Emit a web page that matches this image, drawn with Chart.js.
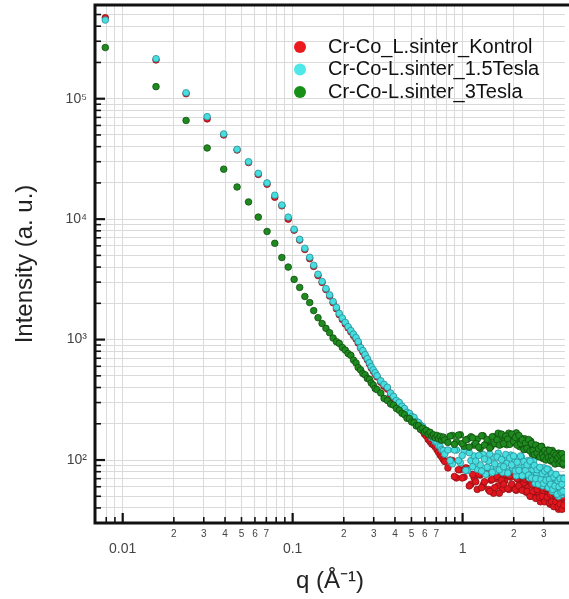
<!DOCTYPE html>
<html>
<head>
<meta charset="utf-8">
<script src="https://cdn.jsdelivr.net/npm/chart.js@4.4.1/dist/chart.umd.min.js"></script>
<style>
html, body { margin: 0; padding: 0; background: #fff; overflow: hidden; }
</style>
</head>
<body>
<canvas id="canvas" width="569" height="599"></canvas>
<script>
// q (1/A); the last block fills in between the high-q points
var qValues = [
  0.0079, 0.0157, 0.0236, 0.0314, 0.0393, 0.0471, 0.055, 0.0628, 0.0707, 0.0785,
  0.0864, 0.0942, 0.102, 0.11, 0.118, 0.126, 0.133, 0.141, 0.149, 0.157,
  0.165, 0.173, 0.181, 0.188, 0.196, 0.204, 0.212, 0.22, 0.228, 0.236,
  0.243, 0.251, 0.259, 0.267, 0.275, 0.283, 0.29, 0.298, 0.306, 0.314,
  0.33, 0.345, 0.361, 0.377, 0.392, 0.408, 0.424, 0.44, 0.455, 0.471,
  0.487, 0.502, 0.518, 0.534, 0.55, 0.565, 0.581, 0.597, 0.612, 0.628,
  0.644, 0.659, 0.675, 0.691, 0.707, 0.722, 0.738, 0.754, 0.77, 0.785,
  0.82, 0.87, 0.92, 0.97, 1.02, 1.07, 1.12, 1.17, 1.22, 1.27,
  1.32, 1.37, 1.42, 1.47, 1.52, 1.57, 1.62, 1.67, 1.72, 1.77,
  1.82, 1.87, 1.92, 1.97, 2.02, 2.07, 2.12, 2.17, 2.22, 2.27,
  2.32, 2.37, 2.42, 2.47, 2.52, 2.57, 2.62, 2.67, 2.72, 2.77,
  2.82, 2.87, 2.92, 2.97, 3.02, 3.07, 3.12, 3.17, 3.22, 3.27,
  3.32, 3.37, 3.42, 3.47, 3.52, 3.57, 3.62, 3.67, 3.72, 3.77,
  3.82, 3.87, 3.92, 3.97,
  0.845, 0.895, 0.945, 0.995, 1.045, 1.095, 1.145, 1.195, 1.245, 1.295,
  1.345, 1.395, 1.445, 1.495, 1.545, 1.595, 1.645, 1.695, 1.745, 1.795,
  1.845, 1.895, 1.945, 1.995, 2.045, 2.095, 2.145, 2.195, 2.245, 2.295,
  2.345, 2.395, 2.445, 2.495, 2.545, 2.595, 2.645, 2.695, 2.745, 2.795,
  2.845, 2.895, 2.945, 2.995, 3.045, 3.095, 3.145, 3.195, 3.245, 3.295,
  3.345, 3.395, 3.445, 3.495, 3.545, 3.595, 3.645, 3.695, 3.745, 3.795,
  3.845, 3.895, 3.945
];

var kontrol = [
  470000, 210000, 110000, 68000, 50000, 37500, 29500, 23500, 19500, 15200,
  12900, 10000, 8100, 6700, 5600, 4700, 4050, 3400, 2980, 2600,
  2300, 2020, 1800, 1610, 1470, 1350, 1250, 1160, 1080, 1010,
  935, 850, 790, 730, 680, 628, 582, 548, 518, 490,
  442, 410, 388, 348, 326, 298, 291, 268, 258, 238,
  235, 220, 216, 198, 194, 181, 175, 164, 158, 148,
  142, 136, 133, 128, 122, 116, 110, 106, 101, 97,
  86, 99, 71, 83, 72, 85, 63, 71, 57, 75,
  62, 77, 57, 68, 53, 70, 61, 75, 57, 67,
  75, 57, 72, 61, 79, 56, 69, 62, 73, 57,
  72, 54, 61, 66, 50, 68, 53, 61, 49, 62,
  53, 45, 59, 48, 62, 46, 54, 48, 61, 43,
  54, 45, 56, 42, 49, 45, 53, 39, 50, 41,
  52, 40, 48, 41,
  100, 73, 83, 71, 86, 61, 76, 66, 76, 59,
  66, 77, 55, 69, 59, 73, 53, 68, 63, 76,
  58, 74, 63, 79, 57, 70, 61, 74, 56, 65,
  69, 55, 70, 50, 63, 55, 66, 48, 57, 62,
  49, 64, 50, 56, 45, 58, 49, 59, 44, 52,
  45, 56, 41, 52, 45, 55, 41, 48, 43, 51,
  39, 49, 42
];

var tesla15 = [
  450000, 215000, 112000, 71000, 51000, 38000, 30000, 24000, 20000, 15800,
  13100, 10400, 8250, 6800, 5730, 4820, 4140, 3490, 3040, 2650,
  2350, 2070, 1850, 1650, 1510, 1390, 1280, 1190, 1110, 1040,
  962, 860, 810, 750, 695, 643, 596, 562, 531, 501,
  455, 425, 402, 360, 338, 312, 301, 280, 268, 249,
  244, 230, 226, 209, 205, 194, 190, 179, 176, 166,
  163, 153, 151, 142, 140, 132, 129, 122, 120, 112,
  121, 93, 121, 95, 120, 82, 99, 108, 84, 91,
  111, 76, 98, 85, 106, 81, 114, 89, 79, 105,
  94, 81, 110, 86, 101, 74, 103, 86, 106, 76,
  90, 77, 99, 71, 90, 77, 98, 64, 78, 85,
  67, 86, 69, 61, 86, 70, 75, 60, 83, 61,
  76, 55, 69, 63, 75, 56, 70, 50, 71, 57,
  62, 52, 71, 54,
  99, 121, 99, 109, 82, 115, 88, 98, 109, 81,
  102, 87, 112, 79, 93, 106, 83, 101, 88, 111,
  78, 104, 91, 108, 81, 96, 82, 108, 74, 97,
  82, 91, 75, 98, 71, 83, 90, 70, 83, 63,
  87, 69, 77, 64, 81, 68, 84, 59, 69, 63,
  77, 57, 72, 61, 76, 52, 67, 60, 70, 54,
  63, 55, 70
];

var tesla3 = [
  266000, 126000, 66000, 39000, 26000, 18500, 13900, 10400, 7900, 6300,
  4800, 4000, 3160, 2710, 2280, 2030, 1740, 1520, 1360, 1240,
  1140, 1030, 960, 930, 860, 818, 765, 740, 676, 640,
  586, 560, 522, 510, 476, 468, 436, 420, 392, 384,
  360, 325, 312, 292, 286, 268, 259, 244, 238, 222,
  221, 207, 205, 192, 193, 180, 184, 171, 176, 164,
  170, 158, 162, 153, 160, 150, 157, 146, 155, 147,
  140, 160, 142, 162, 130, 149, 156, 133, 149, 125,
  159, 135, 145, 129, 156, 137, 167, 134, 154, 145,
  134, 167, 144, 161, 139, 168, 144, 129, 151, 131,
  150, 123, 136, 126, 143, 112, 131, 115, 132, 108,
  123, 111, 130, 103, 121, 110, 103, 121, 104, 113,
  98, 120, 103, 107, 93, 112, 98, 114, 95, 108,
  98, 104, 91, 107,
  158, 135, 161, 137, 147, 128, 153, 137, 128, 159,
  133, 148, 126, 156, 137, 147, 133, 164, 137, 158,
  149, 135, 164, 143, 154, 133, 160, 137, 147, 122,
  138, 125, 148, 119, 137, 120, 111, 133, 114, 124,
  106, 129, 112, 105, 120, 100, 114, 105, 120, 99,
  107, 100, 114, 93, 110, 101, 105, 94, 110, 97,
  113, 94, 104
];

var seriesNames = ['Cr-Co_L.sinter_Kontrol', 'Cr-Co-L.sinter_1.5Tesla', 'Cr-Co-L.sinter_3Tesla'];

var xTicks = [0.008, 0.009, 0.01, 0.02, 0.03, 0.04, 0.05, 0.06, 0.07, 0.08, 0.09,
  0.1, 0.2, 0.3, 0.4, 0.5, 0.6, 0.7, 0.8, 0.9, 1, 2, 3];
var xTickLabels = ['', '', '0.01', '2', '3', '4', '5', '6', '7', '', '',
  '0.1', '2', '3', '4', '5', '6', '7', '', '', '1', '2', '3'];
var xMajor = [0.01, 0.1, 1];

var yTicks = [30, 40, 50, 60, 70, 80, 90,
  100, 200, 300, 400, 500, 600, 700, 800, 900,
  1000, 2000, 3000, 4000, 5000, 6000, 7000, 8000, 9000,
  10000, 20000, 30000, 40000, 50000, 60000, 70000, 80000, 90000,
  100000, 200000, 300000, 400000, 500000, 600000];
var yTickLabels = ['', '', '', '', '', '', '',
  '10²', '', '', '', '', '', '', '', '',
  '10³', '', '', '', '', '', '', '', '',
  '10⁴', '', '', '', '', '', '', '', '',
  '10⁵', '', '', '', '', ''];

var FONT = "'Liberation Sans', Arial, sans-serif";
Chart.defaults.font.family = FONT;

function points(v) {
  return qValues.map(function (q, i) { return {x: q, y: v[i]}; });
}

// axis frame, inward ticks and the legend inside the plot
var frame = {
  id: 'frame',
  afterDatasetsDraw: function (chart) {
    var ctx = chart.ctx, a = chart.chartArea, x = chart.scales.x, y = chart.scales.y;
    ctx.save();
    ctx.strokeStyle = '#111';
    x.ticks.forEach(function (t) {
      var px = x.getPixelForValue(t.value);
      var big = xMajor.indexOf(t.value) >= 0;
      ctx.lineWidth = big ? 2.2 : 1.6;
      ctx.beginPath(); ctx.moveTo(px, a.bottom); ctx.lineTo(px, a.bottom - (big ? 10 : 6)); ctx.stroke();
    });
    y.ticks.forEach(function (t, i) {
      var py = y.getPixelForValue(t.value);
      var big = yTickLabels[i] !== '';
      ctx.lineWidth = big ? 2.2 : 1.6;
      ctx.beginPath(); ctx.moveTo(a.left, py); ctx.lineTo(a.left + (big ? 10 : 6), py); ctx.stroke();
    });
    ctx.lineWidth = 3;
    ctx.beginPath();
    ctx.moveTo(a.right + 5, a.top); ctx.lineTo(a.left, a.top);
    ctx.lineTo(a.left, a.bottom); ctx.lineTo(a.right + 5, a.bottom);
    ctx.stroke();

    ctx.font = '20px ' + FONT;
    ctx.textBaseline = 'middle';
    chart.data.datasets.forEach(function (d, i) {
      var cy = a.top + 42 + i * 22.5;
      ctx.beginPath();
      ctx.arc(a.left + 205, cy, 6, 0, Math.PI * 2);
      ctx.fillStyle = d.legendColor;
      ctx.fill();
      ctx.fillStyle = '#111';
      ctx.fillText(d.label, a.left + 233, cy);
    });
    ctx.restore();
  }
};

var config = {
  type: 'scatter',
  data: {
    datasets: [{
      label: seriesNames[0],
      data: points(kontrol),
      backgroundColor: '#e3161d',
      borderColor: '#8c1015',
      legendColor: '#ea1a1f',
      order: 3
    }, {
      label: seriesNames[1],
      data: points(tesla15),
      backgroundColor: '#46dede',
      borderColor: '#2a8f99',
      legendColor: '#4fe8e8',
      order: 2
    }, {
      label: seriesNames[2],
      data: points(tesla3),
      backgroundColor: '#1f8a1f',
      borderColor: '#0f4f0f',
      legendColor: '#179017',
      order: 1
    }]
  },
  options: {
    responsive: false,
    animation: false,
    layout: { padding: { top: 5, left: 0, right: 0, bottom: 0 } },
    elements: { point: { radius: 3.3, hoverRadius: 3.3, borderWidth: 0.8 } },
    plugins: { legend: { display: false }, tooltip: { enabled: false } },
    scales: {
      x: {
        type: 'logarithmic',
        min: 0.00687,
        max: 4.0,
        afterBuildTicks: function (s) { s.ticks = xTicks.map(function (v) { return {value: v}; }); },
        afterFit: function (s) { s.height = 76; s.paddingLeft = 0; s.paddingRight = 0; },
        grid: { color: '#dadada', lineWidth: 1, drawTicks: false },
        border: { display: false },
        ticks: {
          autoSkip: false,
          maxRotation: 0,
          padding: 5,
          color: '#444',
          callback: function (v, i) {
            return xMajor.indexOf(xTicks[i]) >= 0 ? ['', xTickLabels[i]] : xTickLabels[i];
          },
          font: function (c) {
            return (c.tick && xMajor.indexOf(c.tick.value) >= 0) ? {size: 14, lineHeight: 1} : {size: 10};
          }
        },
        title: { display: true, text: 'q (Å⁻¹)', color: '#222', font: { size: 24 }, padding: { top: 0, bottom: 3 } }
      },
      y: {
        type: 'logarithmic',
        min: 30,
        max: 600000,
        afterBuildTicks: function (s) { s.ticks = yTicks.map(function (v) { return {value: v}; }); },
        afterFit: function (s) { s.width = 95; s.paddingTop = 0; s.paddingBottom = 0; },
        grid: { color: '#dadada', lineWidth: 1, drawTicks: false },
        border: { display: false },
        ticks: {
          autoSkip: false,
          padding: 8,
          color: '#444',
          callback: function (v, i) { return yTickLabels[i]; },
          font: function (c) {
            return (c.tick && yTickLabels[c.index]) ? {size: 14} : {size: 1};
          }
        },
        title: { display: true, text: 'Intensity (a. u.)', color: '#222', font: { size: 24 }, padding: { top: 11, bottom: 0 } }
      }
    }
  },
  plugins: [frame]
};

window.onload = function () {
  var ctx = document.getElementById('canvas').getContext('2d');
  window.myChart = new Chart(ctx, config);
};
</script>
</body>
</html>
